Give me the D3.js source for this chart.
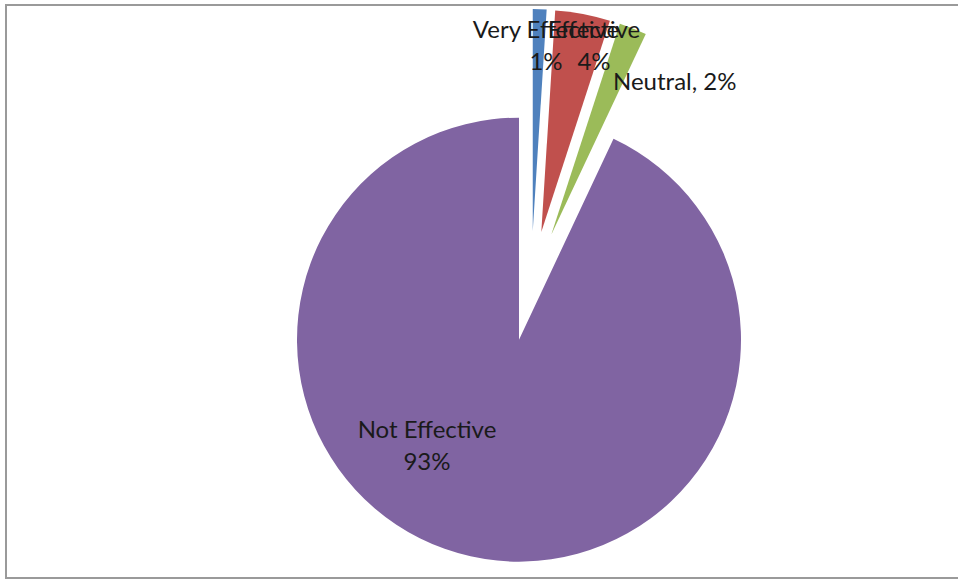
<!DOCTYPE html>
<html><head><meta charset="utf-8">
<script src="https://cdn.jsdelivr.net/npm/d3@7"></script>
<style>body{margin:0;background:#fff}svg{display:block}</style>
</head><body>
<svg id="c" width="958" height="579"></svg>
<script>
const categories = ["Very Effective", "Effective", "Neutral", "Not Effective"];
const values = [1, 4, 2, 93];
const percentLabels = ["1%", "4%", "2%", "93%"];
const colors = ["#4F81BD", "#C0504D", "#9BBB59", "#8064A2"];

const svg = d3.select("#c");
svg.append("rect").attr("x", 6).attr("y", 5).attr("width", 1000).attr("height", 573)
  .attr("fill", "none").attr("stroke", "#9a9a9a").attr("stroke-width", 2);

const cx = 531, cy = 286, R = 222, explode = 55;
const pie = d3.pie().sort(null).value(d => d);
const arc = d3.arc().innerRadius(0).outerRadius(R);
const arcs = pie(values);
const g = svg.append("g").attr("transform", `translate(${cx},${cy})`);
g.selectAll("path").data(arcs).join("path")
  .attr("d", arc)
  .attr("fill", (d, i) => colors[i])
  .attr("transform", d => {
    const a = (d.startAngle + d.endAngle) / 2;
    return `translate(${explode * Math.sin(a)},${-explode * Math.cos(a)})`;
  });

const labelLayout = [
  {x: 546, anchor: "middle", y: 38, twoLine: true},
  {x: 594, anchor: "middle", y: 38, twoLine: true},
  {x: 613, anchor: "start", y: 90, twoLine: false},
  {x: 427, anchor: "middle", y: 438, twoLine: true}
];
const font = "Lato, 'Open Sans', sans-serif";
labelLayout.forEach((L, i) => {
  const t = svg.append("text").attr("x", L.x).attr("y", L.y)
    .attr("text-anchor", L.anchor).attr("font-family", font)
    .attr("font-size", 24).attr("fill", "#1a1a1a");
  if (L.twoLine) {
    t.append("tspan").attr("x", L.x).text(categories[i]);
    t.append("tspan").attr("x", L.x).attr("dy", 32).text(percentLabels[i]);
  } else {
    t.text(categories[i] + ", " + percentLabels[i]);
  }
});
</script>
</body></html>
